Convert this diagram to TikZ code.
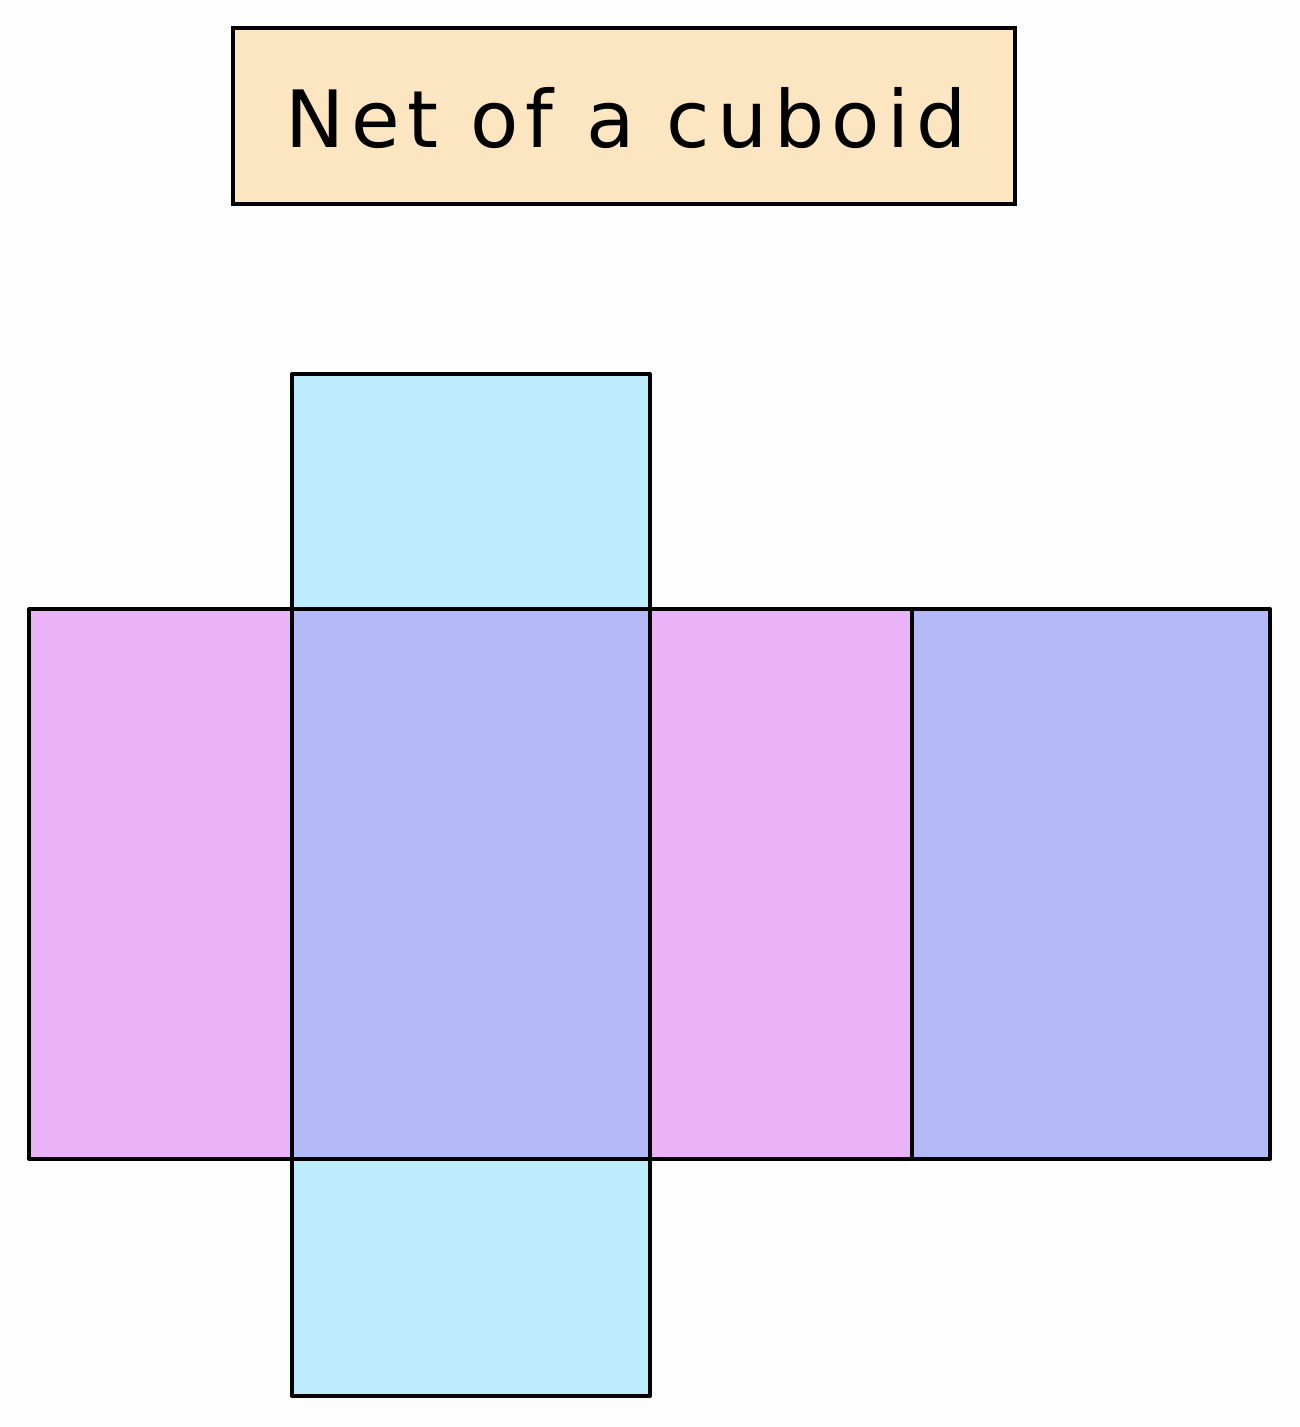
\documentclass[tikz,border=0pt]{standalone}
\usepackage{fontspec}
\setmainfont{DejaVu Sans}
\newfontfamily\titlefont[LetterSpace=9]{DejaVu Sans}
\definecolor{bgc}{HTML}{FDFDFD}
\definecolor{titlec}{HTML}{FCE6C2}
\definecolor{cyanf}{HTML}{BDEDFC}
\definecolor{pinkf}{HTML}{EBB3F7}
\definecolor{bluef}{HTML}{B3BAF7}
\begin{document}
\begin{tikzpicture}[x=0.02cm,y=-0.02cm,
  face/.style={draw=black,line width=2.3pt,line join=round},
  titlebox/.style={draw=black,line width=2pt,fill=titlec}]
\fill[bgc] (0,0) rectangle (1300,1427);
\useasboundingbox (0,0) rectangle (1300,1427);
% title
\draw[titlebox] (233,28) rectangle (1015,204);
\node[font=\titlefont\fontsize{45}{54}\selectfont] (title) at (626,118) {Net of a cuboid};
% faces
\draw[face,fill=cyanf] (292,374) rectangle (650,609);
\draw[face,fill=pinkf] (29,609) rectangle (292,1159);
\draw[face,fill=bluef] (292,609) rectangle (650,1159);
\draw[face,fill=pinkf] (650,609) rectangle (912,1159);
\draw[face,fill=bluef] (912,609) rectangle (1270,1159);
\draw[face,fill=cyanf] (292,1159) rectangle (650,1396);
\end{tikzpicture}
\end{document}
